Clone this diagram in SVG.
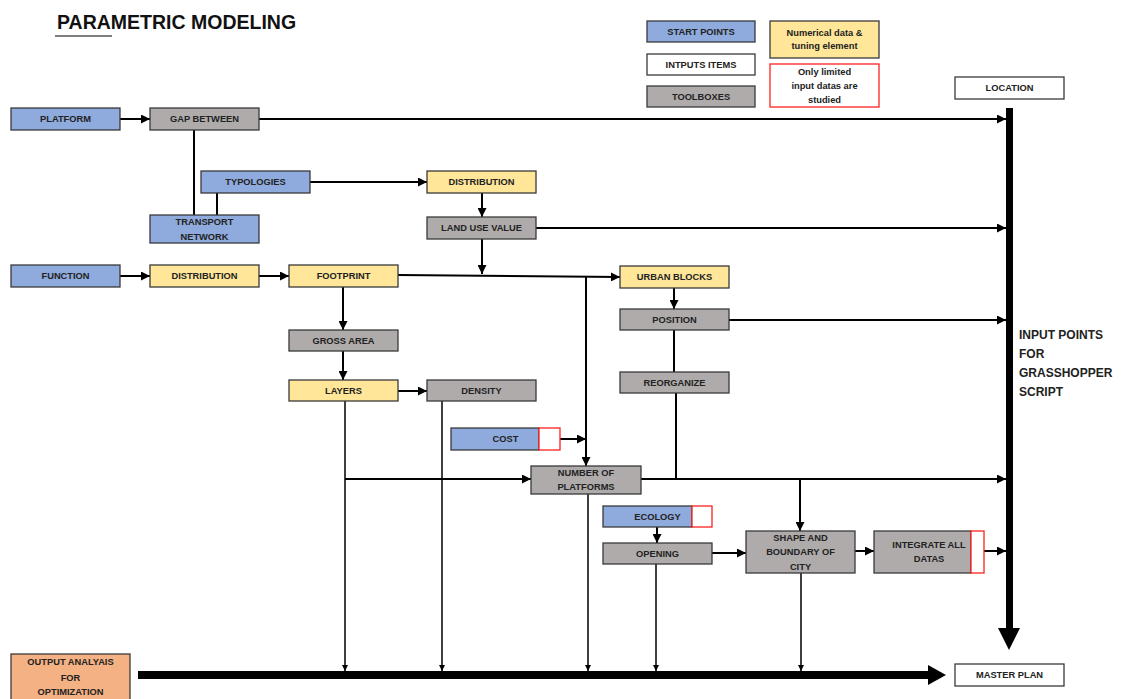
<svg xmlns="http://www.w3.org/2000/svg" width="1121" height="699" viewBox="0 0 1121 699">
<style>
.t{font-family:"Liberation Sans",Arial,sans-serif;font-weight:bold;font-size:9.3px;fill:#222;text-anchor:middle}
.b{fill:#8FAADC;stroke:#3a3a3a;stroke-width:1.3}
.y{fill:#FFE699;stroke:#3a3a3a;stroke-width:1.3}
.g{fill:#AFABAB;stroke:#3a3a3a;stroke-width:1.3}
.w{fill:#fff;stroke:#3a3a3a;stroke-width:1.3}
.o{fill:#F4B183;stroke:#3a3a3a;stroke-width:1.3}
.r{fill:#fff;stroke:#FF2020;stroke-width:1.3}
.c{fill:none;stroke:#000;stroke-width:2}
.cs{fill:none;stroke:#000;stroke-width:1.5}
.big{font-family:"Liberation Sans",Arial,sans-serif;font-weight:bold;font-size:12px;fill:#222}
</style>
<defs>
<marker id="ah" viewBox="0 0 10 10" refX="10" refY="5" markerWidth="9" markerHeight="9" markerUnits="userSpaceOnUse" orient="auto"><path d="M0,0 L10,5 L0,10 z" fill="#000"/></marker>
<marker id="ahs" viewBox="0 0 10 10" refX="10" refY="5" markerWidth="7" markerHeight="6" markerUnits="userSpaceOnUse" orient="auto"><path d="M0,0 L10,5 L0,10 z" fill="#000"/></marker>
</defs>
<rect width="1121" height="699" fill="#fff"/>
<g id="title">
<text x="57" y="29" style="font-family:'Liberation Sans',Arial,sans-serif;font-weight:bold;font-size:19.5px;fill:#111">PARAMETRIC MODELING</text>
<line x1="55" y1="36" x2="112" y2="36" stroke="#000" stroke-width="1"/>
</g>
<g id="legend">
<rect class="b" x="647" y="21" width="108" height="21"/><text class="t" x="701" y="35">START POINTS</text>
<rect class="w" x="647" y="54" width="108" height="21"/><text class="t" x="701" y="68">INTPUTS ITEMS</text>
<rect class="g" x="647" y="86" width="108" height="21"/><text class="t" x="701" y="100">TOOLBOXES</text>
<rect class="y" x="770" y="21" width="109" height="37"/><text class="t" x="824.5" y="35.5">Numerical data &amp;</text><text class="t" x="824.5" y="49">tuning element</text>
<rect class="r" x="770" y="64" width="109" height="43"/><text class="t" x="824.5" y="74.5">Only limited</text><text class="t" x="824.5" y="88.5">input datas are</text><text class="t" x="824.5" y="102.5">studied</text>
</g>
<g id="location"><rect class="w" x="955" y="77" width="109" height="22"/><text class="t" x="1009.5" y="91">LOCATION</text></g>
<g id="connectors">
<line class="c" x1="120" y1="119" x2="150" y2="119" marker-end="url(#ah)"/>
<line class="c" x1="259" y1="119" x2="1006" y2="119" marker-end="url(#ah)"/>
<line class="c" x1="194" y1="130" x2="194" y2="215"/>
<line class="c" x1="217" y1="193" x2="217" y2="215"/>
<line class="c" x1="310" y1="182" x2="427" y2="182" marker-end="url(#ah)"/>
<line class="c" x1="482" y1="193" x2="482" y2="217" marker-end="url(#ah)"/>
<line class="c" x1="536" y1="228" x2="1006" y2="228" marker-end="url(#ah)"/>
<line class="c" x1="482" y1="239" x2="482" y2="274" marker-end="url(#ah)"/>
<line class="c" x1="120" y1="276" x2="150" y2="276" marker-end="url(#ah)"/>
<line class="c" x1="259" y1="276" x2="289" y2="276" marker-end="url(#ah)"/>
<line class="c" x1="398" y1="275" x2="620" y2="277" marker-end="url(#ah)"/>
<line class="c" x1="586" y1="277" x2="586" y2="466" marker-end="url(#ah)"/>
<line class="c" x1="674" y1="288" x2="674" y2="309" marker-end="url(#ah)"/>
<line class="c" x1="729" y1="320" x2="1006" y2="320" marker-end="url(#ah)"/>
<line class="c" x1="674" y1="330" x2="674" y2="372"/>
<line class="c" x1="676" y1="393" x2="676" y2="479"/>
<line class="c" x1="343" y1="287" x2="343" y2="330" marker-end="url(#ah)"/>
<line class="c" x1="343" y1="351" x2="343" y2="380" marker-end="url(#ah)"/>
<line class="c" x1="398" y1="391" x2="427" y2="391" marker-end="url(#ah)"/>
<line class="c" x1="345" y1="479" x2="531" y2="479" marker-end="url(#ah)"/>
<line class="c" x1="560" y1="439" x2="586" y2="439" marker-end="url(#ah)"/>
<line class="c" x1="641" y1="479" x2="1006" y2="479" marker-end="url(#ah)"/>
<line class="c" x1="800" y1="479" x2="800" y2="531" marker-end="url(#ah)"/>
<line class="c" x1="657" y1="527" x2="657" y2="543" marker-end="url(#ah)"/>
<line class="c" x1="712" y1="553" x2="746" y2="553" marker-end="url(#ah)"/>
<line class="c" x1="855" y1="551" x2="874" y2="551" marker-end="url(#ah)"/>
<line class="c" x1="984" y1="551" x2="1006" y2="551" marker-end="url(#ah)"/>
<line class="cs" x1="345" y1="401" x2="345" y2="671" marker-end="url(#ahs)"/>
<line class="cs" x1="442" y1="401" x2="442" y2="671" marker-end="url(#ahs)"/>
<line class="cs" x1="588" y1="494" x2="588" y2="671" marker-end="url(#ahs)"/>
<line class="cs" x1="656" y1="564" x2="656" y2="671" marker-end="url(#ahs)"/>
<line class="cs" x1="801" y1="573" x2="801" y2="671" marker-end="url(#ahs)"/>
<rect x="1006" y="108" width="7" height="521" fill="#000"/>
<polygon points="998,628 1020,628 1009,650" fill="#000"/>
<rect x="138" y="671" width="791" height="8" fill="#000"/>
<polygon points="928,665 946,675 928,685" fill="#000"/>
</g>
<g id="platform"><rect class="b" x="11" y="108" width="109" height="22"/><text class="t" x="65.5" y="122">PLATFORM</text></g>
<g id="gap-between"><rect class="g" x="150" y="108" width="109" height="22"/><text class="t" x="204.5" y="122">GAP BETWEEN</text></g>
<g id="typologies"><rect class="b" x="201" y="171" width="109" height="22"/><text class="t" x="255.5" y="185">TYPOLOGIES</text></g>
<g id="transport-network"><rect class="b" x="150" y="215" width="109" height="28"/><text class="t" x="204.5" y="225">TRANSPORT</text><text class="t" x="204.5" y="239.5">NETWORK</text></g>
<g id="distribution-top"><rect class="y" x="427" y="171" width="109" height="22"/><text class="t" x="481.5" y="185">DISTRIBUTION</text></g>
<g id="land-use-value"><rect class="g" x="427" y="217" width="109" height="22"/><text class="t" x="481.5" y="231">LAND USE VALUE</text></g>
<g id="function"><rect class="b" x="11" y="265" width="109" height="22"/><text class="t" x="65.5" y="279">FUNCTION</text></g>
<g id="distribution"><rect class="y" x="150" y="265" width="109" height="22"/><text class="t" x="204.5" y="279">DISTRIBUTION</text></g>
<g id="footprint"><rect class="y" x="289" y="265" width="109" height="22"/><text class="t" x="343.5" y="279">FOOTPRINT</text></g>
<g id="urban-blocks"><rect class="y" x="620" y="266" width="109" height="22"/><text class="t" x="674.5" y="280">URBAN BLOCKS</text></g>
<g id="position"><rect class="g" x="620" y="309" width="109" height="21"/><text class="t" x="674.5" y="322.5">POSITION</text></g>
<g id="reorganize"><rect class="g" x="620" y="372" width="109" height="21"/><text class="t" x="674.5" y="385.5">REORGANIZE</text></g>
<g id="gross-area"><rect class="g" x="289" y="330" width="109" height="21"/><text class="t" x="343.5" y="343.5">GROSS AREA</text></g>
<g id="layers"><rect class="y" x="289" y="380" width="109" height="21"/><text class="t" x="343.5" y="393.5">LAYERS</text></g>
<g id="density"><rect class="g" x="427" y="380" width="109" height="21"/><text class="t" x="481.5" y="393.5">DENSITY</text></g>
<g id="cost"><rect class="b" x="451" y="428" width="88" height="22"/><rect class="r" x="539" y="428" width="21" height="22"/><text class="t" x="505.5" y="442">COST</text></g>
<g id="number-of-platforms"><rect class="g" x="531" y="466" width="110" height="28"/><text class="t" x="586" y="475.5">NUMBER OF</text><text class="t" x="586" y="489.5">PLATFORMS</text></g>
<g id="ecology"><rect class="b" x="603" y="506" width="89" height="21"/><rect class="r" x="692" y="506" width="20" height="21"/><text class="t" x="657.5" y="519.5">ECOLOGY</text></g>
<g id="opening"><rect class="g" x="603" y="543" width="109" height="21"/><text class="t" x="657.5" y="556.5">OPENING</text></g>
<g id="shape-boundary"><rect class="g" x="746" y="531" width="109" height="42"/><text class="t" x="800.5" y="541">SHAPE AND</text><text class="t" x="800.5" y="555">BOUNDARY OF</text><text class="t" x="800.5" y="569.5">CITY</text></g>
<g id="integrate"><rect class="g" x="874" y="531" width="97" height="42"/><rect class="r" x="971" y="531" width="13" height="42"/><text class="t" x="929" y="547.5">INTEGRATE ALL</text><text class="t" x="929" y="562">DATAS</text></g>
<g id="input-points"><text class="big" x="1019" y="339">INPUT POINTS</text><text class="big" x="1019" y="358">FOR</text><text class="big" x="1019" y="377">GRASSHOPPER</text><text class="big" x="1019" y="396">SCRIPT</text></g>
<g id="output-analysis"><rect class="o" x="11" y="654" width="119" height="50"/><text class="t" x="70.5" y="665">OUTPUT ANALYAIS</text><text class="t" x="70.5" y="680.5">FOR</text><text class="t" x="70.5" y="695">OPTIMIZATION</text></g>
<g id="master-plan"><rect class="w" x="955" y="664" width="109" height="22"/><text class="t" x="1009.5" y="678">MASTER PLAN</text></g>
</svg>
